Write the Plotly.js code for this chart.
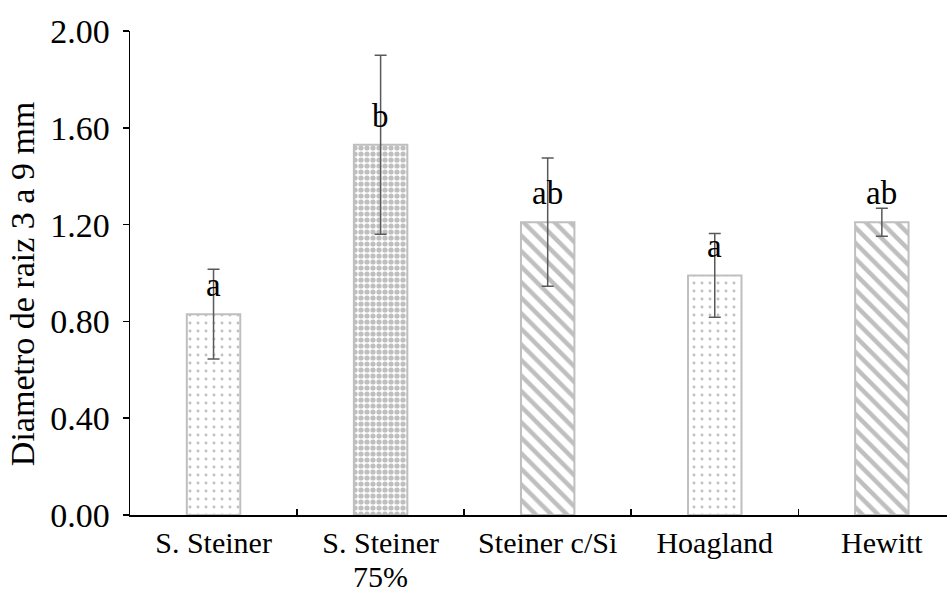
<!DOCTYPE html>
<html>
<head>
<meta charset="utf-8">
<script src="https://cdn.plot.ly/plotly-3.0.1.min.js"></script>
<style>html,body{margin:0;padding:0;background:#fff;overflow:hidden}</style>
</head>
<body>
<div id="chart" style="width:947px;height:594px"></div>
<script>
const categories = ["S. Steiner", "S. Steiner 75%", "Steiner c/Si", "Hoagland", "Hewitt"];
const tickLine1 = ["S. Steiner", "S. Steiner", "Steiner c/Si", "Hoagland", "Hewitt"];
const tickLine2 = ["", "75%", "", "", ""];
const values = [0.83, 1.53, 1.21, 0.99, 1.21];
const errors = [0.185, 0.37, 0.265, 0.173, 0.058];
const letters = ["a", "b", "ab", "a", "ab"];
const yTicks = [0, 0.4, 0.8, 1.2, 1.6, 2.0];
const yTickText = ["0.00", "0.40", "0.80", "1.20", "1.60", "2.00"];
const yTitle = "Diametro de raiz 3 a 9 mm";
const patternShapes = [".", ".", "\\", ".", "\\"];
const patternSizes = [8, 6, 11, 8, 11];
const patternSolidity = [0.1, 0.6, 0.4, 0.1, 0.4];

const font = "Liberation Serif";
const fsX = 30;
const fsY = 34;
const fsTitle = 34;
const fsLetter = 33;

const trace = {
  type: "bar",
  x: categories,
  y: values,
  width: 0.32,
  marker: {
    color: "#ffffff",
    line: {color: "#bfbfbf", width: 2},
    pattern: {
      shape: patternShapes,
      size: patternSizes,
      solidity: patternSolidity,
      fgcolor: "#bfbfbf",
      bgcolor: "#ffffff",
      fillmode: "replace"
    }
  },
  error_y: {type: "data", array: errors, visible: true, color: "#595959", thickness: 1.5, width: 6},
  hoverinfo: "none"
};

const annotations = categories.map((c, i) => ({
  x: c, y: values[i], xref: "x", yref: "y",
  text: letters[i], showarrow: false, yshift: 29,
  font: {family: font, size: fsLetter, color: "#000"}
}));
categories.forEach((c, i) => {
  if (tickLine2[i]) {
    annotations.push({
      x: c, y: 0, xref: "x", yref: "paper", yanchor: "bottom",
      text: tickLine2[i], showarrow: false, yshift: -79, borderpad: 0,
      font: {family: font, size: fsX, color: "#000"}
    });
  }
});
annotations.push({
  x: 0, y: 0.477, xref: "paper", yref: "paper", xanchor: "center", yanchor: "middle",
  xshift: -108, textangle: -90, showarrow: false, text: yTitle,
  font: {family: font, size: fsTitle, color: "#000"}
});

const layout = {
  width: 947, height: 594,
  margin: {l: 130, r: 0, t: 31, b: 79, pad: 0},
  paper_bgcolor: "#fff", plot_bgcolor: "#fff",
  showlegend: false,
  font: {family: font, size: fsX, color: "#000"},
  xaxis: {
    type: "category",
    range: [-0.5, 4.39],
    tickmode: "array", tickvals: categories, ticktext: tickLine1,
    showline: true, linecolor: "#000", linewidth: 1.5,
    ticks: "inside", tickson: "boundaries", ticklen: 6, tickcolor: "#000", tickwidth: 1.5,
    ticklabelstandoff: 0,
    tickfont: {family: font, size: fsX, color: "#000"},
    showgrid: false, zeroline: false, automargin: false, fixedrange: true
  },
  yaxis: {
    range: [0, 2],
    tickvals: yTicks,
    ticktext: yTickText,
    showline: true, linecolor: "#000", linewidth: 1.5,
    ticks: "outside", ticklen: 6, tickcolor: "#000", tickwidth: 1.5,
    ticklabelstandoff: 6,
    tickfont: {family: font, size: fsY, color: "#000"},
    showgrid: false, zeroline: false, automargin: false, fixedrange: true
  },
  annotations: annotations
};

Plotly.newPlot("chart", [trace], layout, {staticPlot: true, displayModeBar: false});
</script>
</body>
</html>
